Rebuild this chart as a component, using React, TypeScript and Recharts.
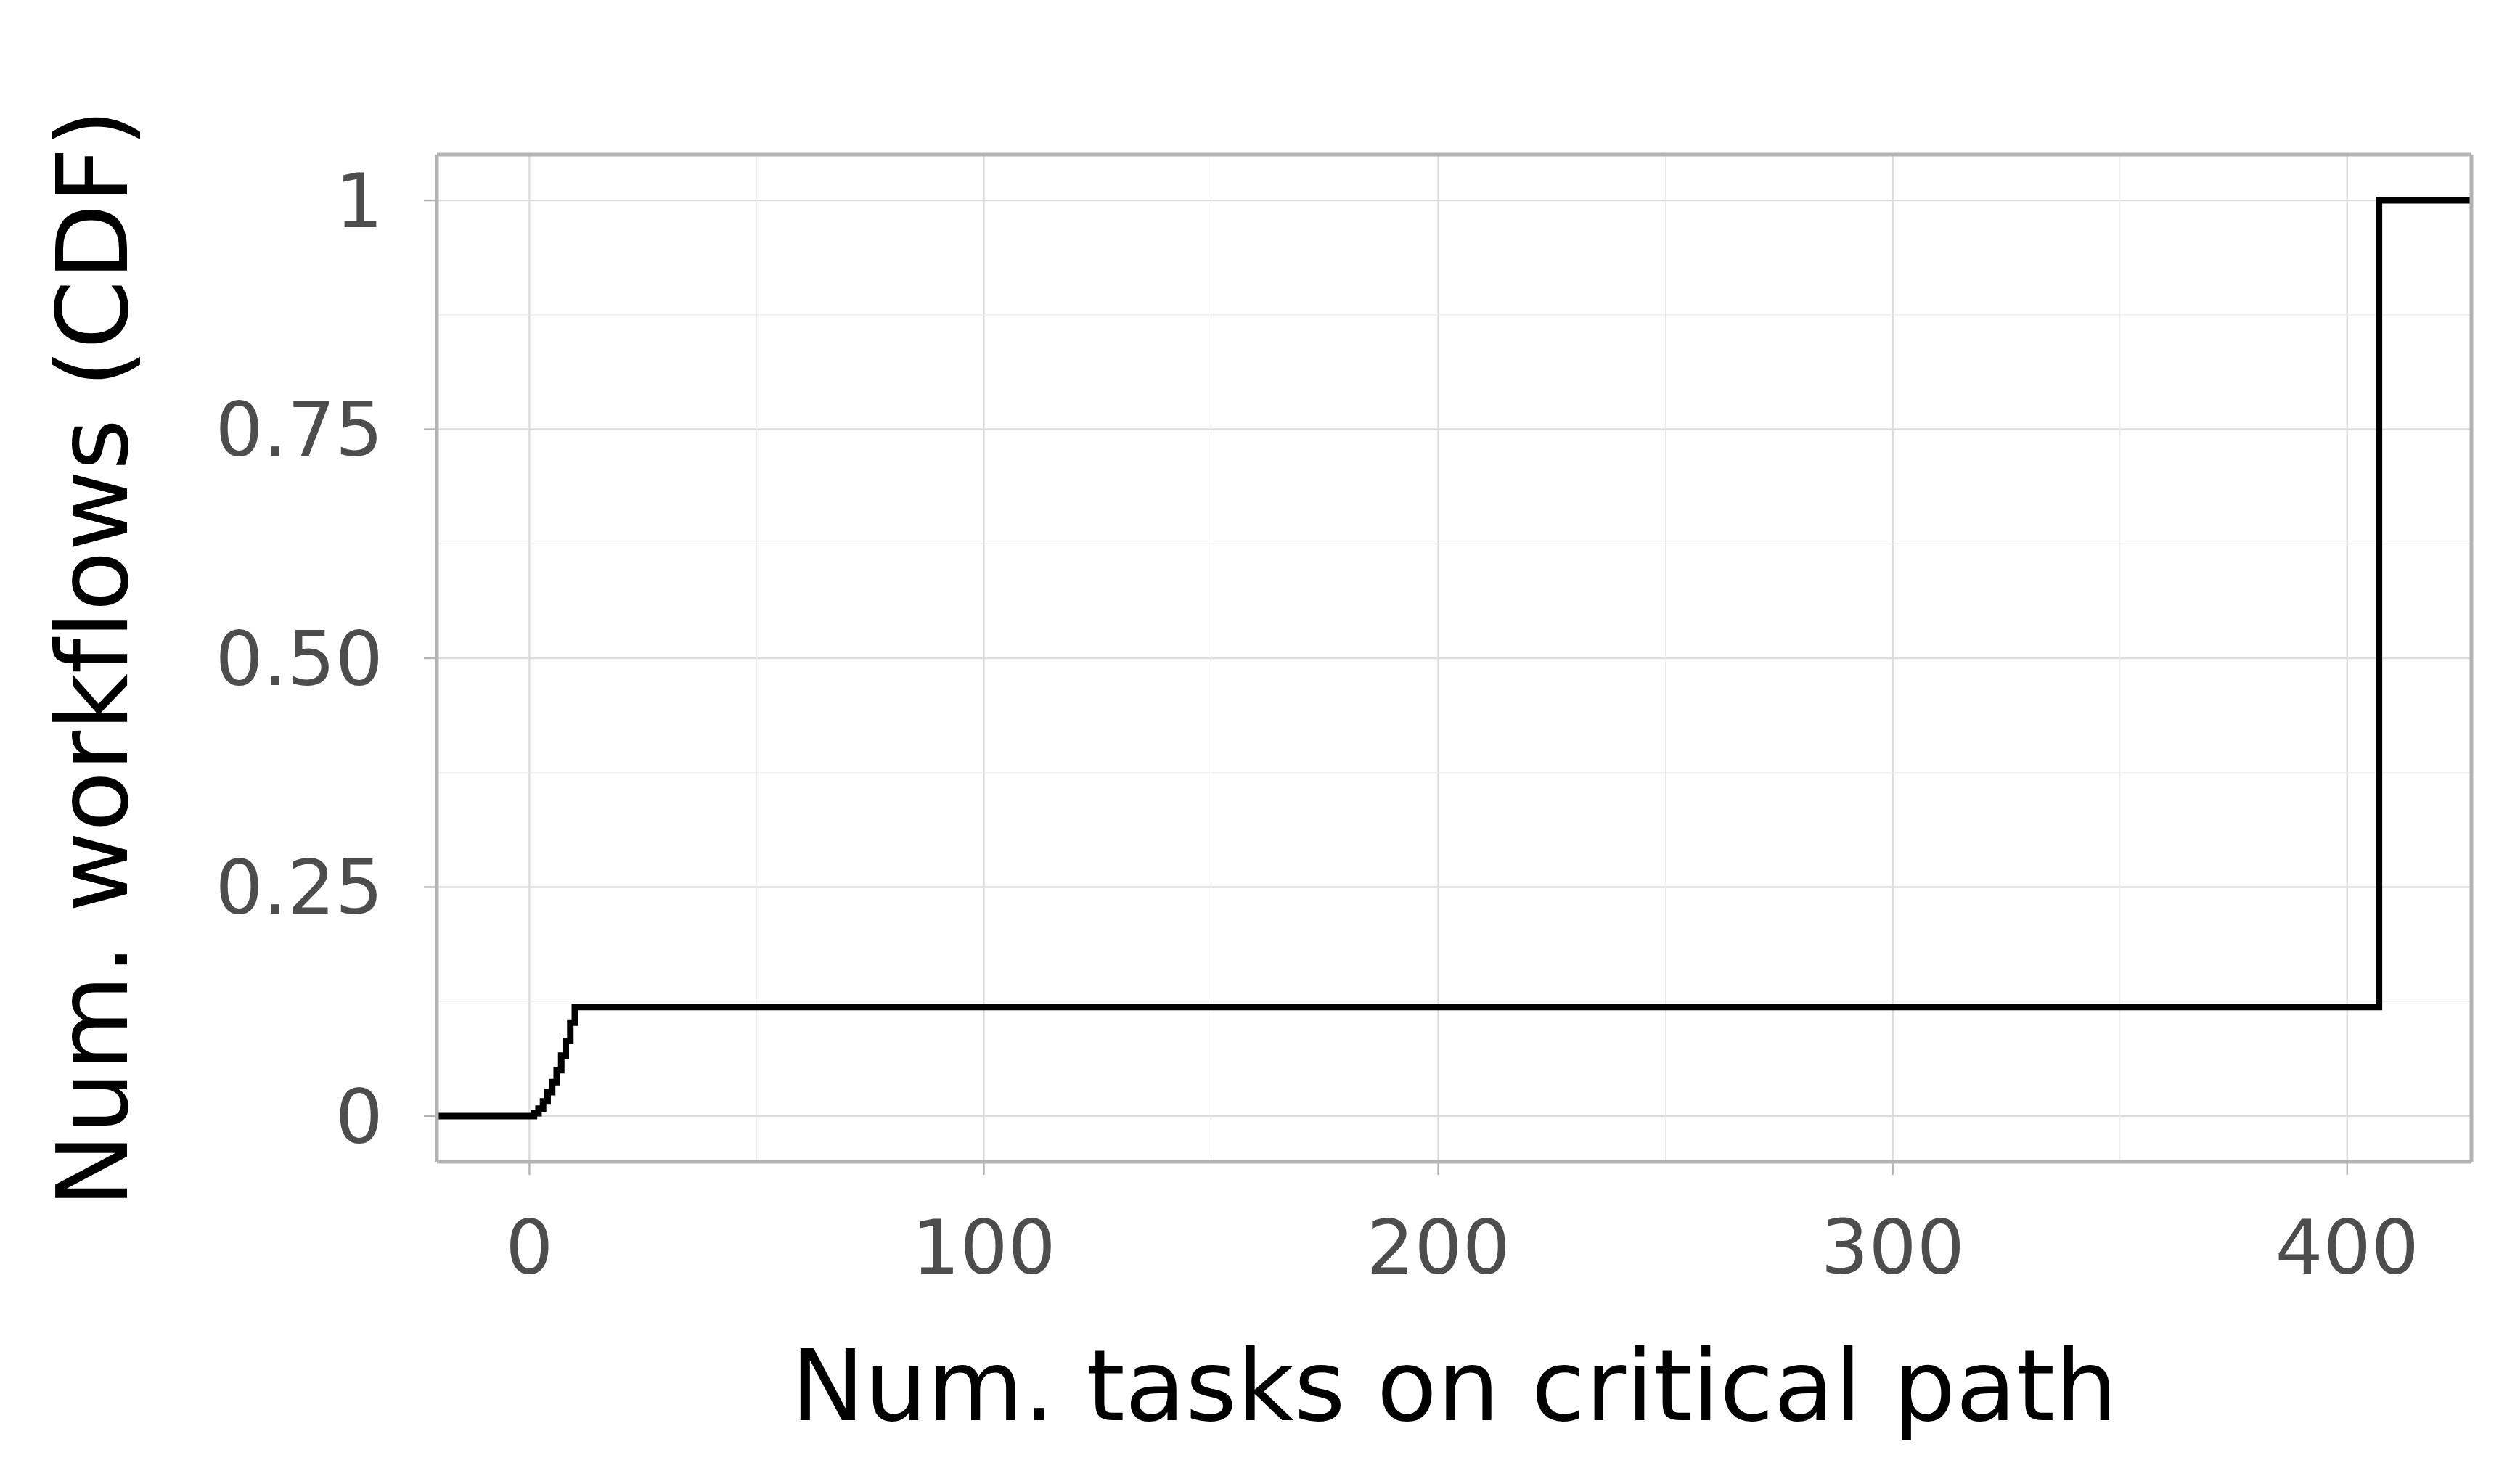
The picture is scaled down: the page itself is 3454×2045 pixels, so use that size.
import React from 'react';
import { LineChart, Line, XAxis, YAxis, CartesianGrid, ReferenceLine } from 'recharts';

const tasks = [-20.35, 1, 2, 3, 4, 5, 6, 7, 8, 9, 10, 407, 427.35];
const cdf = [0, 0.003, 0.008, 0.016, 0.026, 0.037, 0.05, 0.066, 0.082, 0.102, 0.119, 1, 1];
const xTicks = [0, 100, 200, 300, 400];
const yTicks = [0, 0.25, 0.5, 0.75, 1];
const xMinor = [50, 150, 250, 350];
const yMinor = [0.125, 0.375, 0.625, 0.875];

const data = tasks.map((t, i) => ({ t, c: cdf[i] }));
const font = '"DejaVu Sans", sans-serif';

export default function App() {
  return (
    <div style={{ position: 'absolute', left: 0, top: 0, width: 3454, height: 2045, background: '#fff', fontFamily: font, fontVariantLigatures: 'none' }}>
      <LineChart width={3454} height={2045} data={data} margin={{ left: 0, top: 213, right: 49, bottom: 0 }}>
        {xMinor.map(v => <ReferenceLine key={'x' + v} x={v} stroke="#ececec" strokeWidth={1.2} />)}
        {yMinor.map(v => <ReferenceLine key={'y' + v} y={v} stroke="#ececec" strokeWidth={1.2} />)}
        <CartesianGrid stroke="#dcdcdc" strokeWidth={2.4} horizontal vertical />
        <XAxis type="number" dataKey="t" domain={[-20.35, 427.35]} ticks={xTicks} allowDataOverflow
          height={444} tickSize={18} tickMargin={62} axisLine={false}
          tickLine={{ stroke: '#b3b3b3', strokeWidth: 2.4 }}
          tick={{ fill: '#4d4d4d', fontSize: 104, fontFamily: font }} />
        <YAxis type="number" domain={[-0.05, 1.05]} ticks={yTicks} allowDataOverflow
          width={602} tickSize={18} tickMargin={56} axisLine={false}
          tickFormatter={(v: number) => (v === 0 ? '0' : v === 1 ? '1' : v.toFixed(2))}
          tickLine={{ stroke: '#b3b3b3', strokeWidth: 2.4 }}
          tick={{ fill: '#4d4d4d', fontSize: 104, fontFamily: font }} />
        <Line type="stepAfter" dataKey="c" stroke="#000" strokeWidth={9} dot={false} isAnimationActive={false} />
        <ReferenceLine x={-20.35} stroke="#b3b3b3" strokeWidth={5} />
        <ReferenceLine x={427.35} stroke="#b3b3b3" strokeWidth={5} />
        <ReferenceLine y={-0.05} stroke="#b3b3b3" strokeWidth={5} />
        <ReferenceLine y={1.05} stroke="#b3b3b3" strokeWidth={5} />
      </LineChart>
      <div style={{ position: 'absolute', left: 602, width: 2803, top: 1835, textAlign: 'center', fontSize: 136, lineHeight: '150px', color: '#000' }}>
        Num. tasks on critical path
      </div>
      <div style={{ position: 'absolute', left: 128, top: 907, width: 1800, height: 150, marginLeft: -900, marginTop: -75, transform: 'rotate(-90deg)', textAlign: 'center', fontSize: 136, lineHeight: '150px', color: '#000', whiteSpace: 'nowrap' }}>
        Num. workflows (CDF)
      </div>
    </div>
  );
}
